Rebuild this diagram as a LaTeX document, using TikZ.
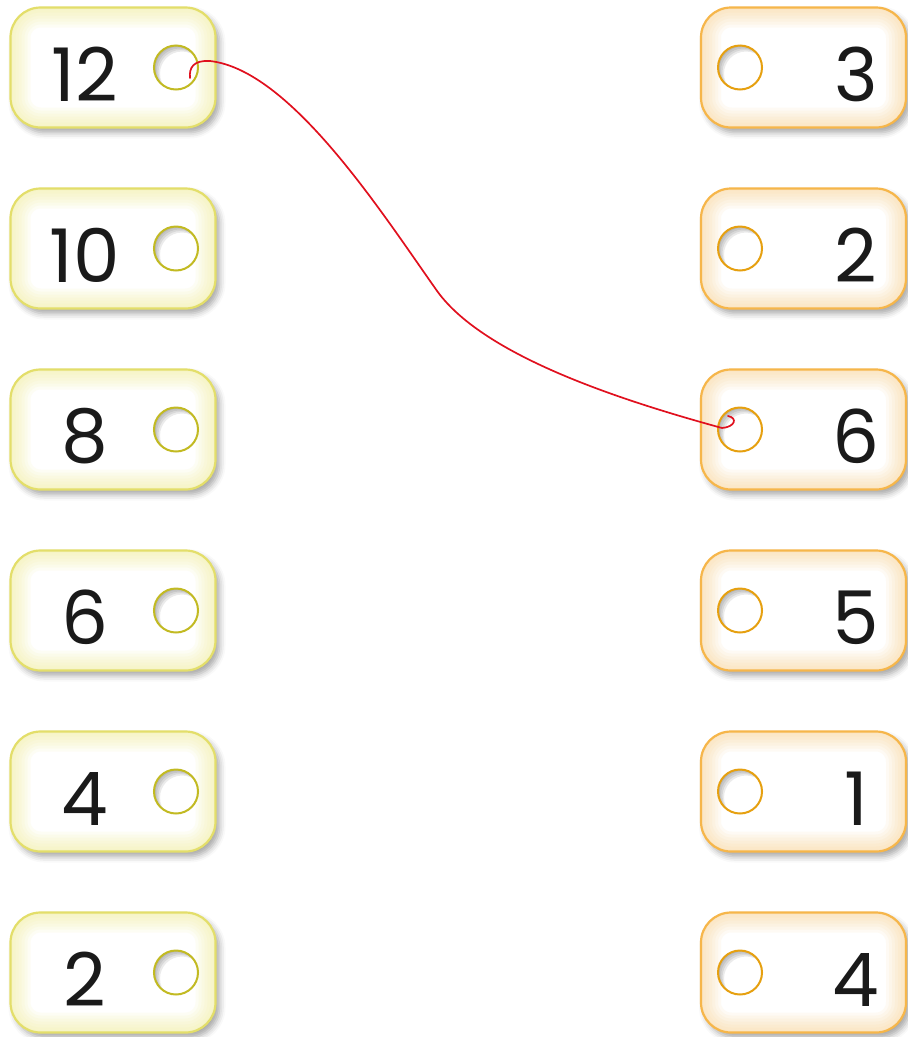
\documentclass[tikz,border=0pt]{standalone}
\usepackage{fontspec}
\setmainfont{Poppins}
\usetikzlibrary{shadows.blur}
\definecolor{yb}{HTML}{E3DE6A}
\definecolor{yg}{HTML}{F0EC8E}
\definecolor{ob}{HTML}{F6B64A}
\definecolor{og}{HTML}{FBD088}
\definecolor{yh}{HTML}{C2BA22}
\definecolor{oh}{HTML}{E6A010}
\definecolor{wire}{HTML}{E0101E}
\definecolor{ink}{HTML}{1A1A1A}
\tikzset{
  tagbox/.style 2 args={draw=#1, line width=2.2pt, fill=white, rounded corners=30pt,
    minimum width=205pt, minimum height=120pt, inner sep=0pt,
    blur shadow={shadow xshift=4pt, shadow yshift=-5pt, shadow blur radius=6pt, shadow opacity=35},
    path picture={
      \foreach \w in {40,34,...,4}
        \draw[line width=\w pt, draw=#2, opacity=0.09, rounded corners=30pt]
          (path picture bounding box.south west) rectangle (path picture bounding box.north east);
    }},
  lbox/.style={tagbox={yb}{yg}},
  rbox/.style={tagbox={ob}{og}},
  hole/.style={circle, minimum size=44pt, inner sep=0pt, fill=white, draw=#1, line width=2pt,
    path picture={
      \foreach \s in {1.5,3,4.5,6}
        \draw[line width=10pt, draw=black, opacity=0.08]
          ([shift={(\s pt,-\s pt)}]path picture bounding box.center) circle (27pt);
    }},
  lhole/.style={hole=yh},
  rhole/.style={hole=oh},
  num/.style={font=\fontsize{74}{74}\selectfont, text=ink, inner sep=0pt, anchor=center},
  wirestyle/.style={draw=wire, line width=1.7pt, line cap=round}
}
\begin{document}
\begin{tikzpicture}[x=1pt,y=-1pt]
\useasboundingbox (0,0) rectangle (908,1037);
\foreach \i/\l/\r in {1/12/3,2/10/2,3/8/6,4/6/5,5/4/1,6/2/4}{
  \pgfmathsetmacro{\yc}{67.5+181*(\i-1)}
  \node[lbox] (L\i) at (113,\yc) {};
  \node[rbox] (R\i) at (803.5,\yc) {};
  \node[lhole] (LH\i) at (176,\yc) {};
  \node[rhole] (RH\i) at (740,\yc) {};
  \node[num] (LT\i) at (85,\yc+7) {\l};
  \node[num] (RT\i) at (856,\yc+7) {\r};
}
\coordinate (ws) at (190,78);
\coordinate (we) at (728,416);
\draw[wirestyle] (ws) .. controls (189,68) and (193,60) .. (210,61)
  .. controls (290,70) and (380,210) .. (435,288)
  .. controls (480,355) and (620,400) .. (722,428)
  .. controls (735,427) and (738,418) .. (we);
\end{tikzpicture}
\end{document}
